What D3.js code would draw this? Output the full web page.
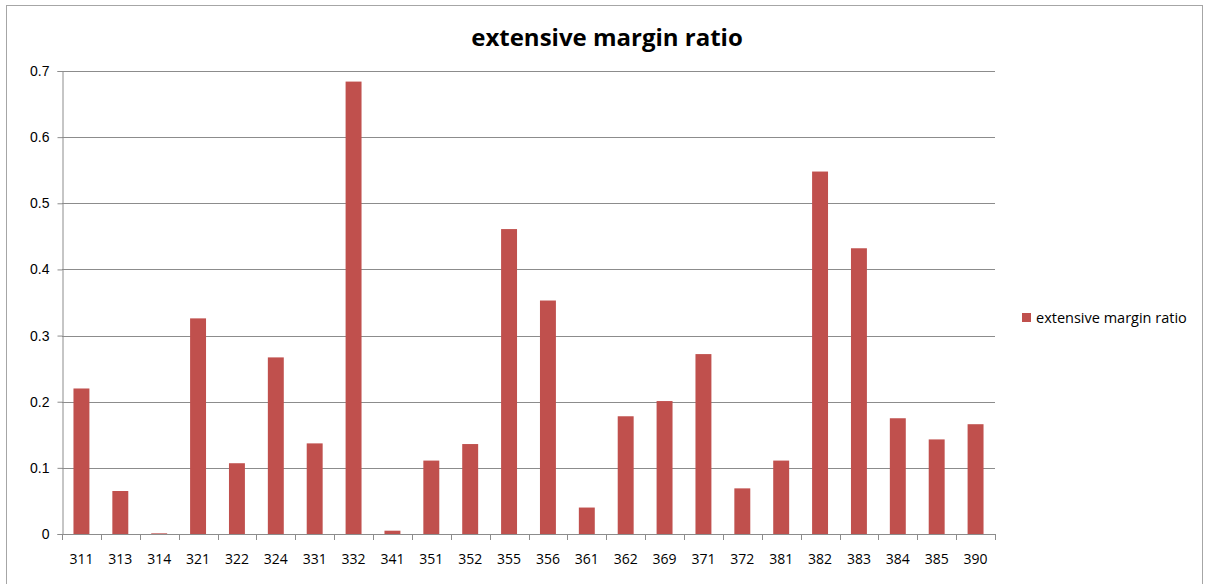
<!DOCTYPE html>
<html>
<head>
<meta charset="utf-8">
<script src="https://cdn.jsdelivr.net/npm/d3@7"></script>
<style>
  body { margin: 0; background: #fff; }
  svg { display: block; font-family: "Open Sans", "Noto Sans", sans-serif; }
</style>
</head>
<body>
<svg id="chart"></svg>
<script>
const categories = ['311', '313', '314', '321', '322', '324', '331', '332', '341', '351', '352', '355',
  '356', '361', '362', '369', '371', '372', '381', '382', '383', '384', '385', '390'];
const values = [0.220, 0.065, 0.001, 0.326, 0.107, 0.267, 0.137, 0.684, 0.005, 0.111, 0.136, 0.461,
  0.353, 0.040, 0.178, 0.201, 0.272, 0.069, 0.111, 0.548, 0.432, 0.175, 0.143, 0.166];
const yTicks = [0, 0.1, 0.2, 0.3, 0.4, 0.5, 0.6, 0.7];
const seriesName = 'extensive margin ratio';

const width = 1205, height = 584;
const margin = { top: 71, left: 62, right: 210, bottom: 50 };
const barColor = '#c0504d';

const svg = d3.select('#chart').attr('width', width).attr('height', height);

// chart frame
svg.append('rect')
  .attr('x', 6.5).attr('y', 5.5)
  .attr('width', 1196).attr('height', 600)
  .attr('fill', 'none').attr('stroke', '#a6a6a6');

const x = d3.scaleBand()
  .domain(categories)
  .range([margin.left, width - margin.right])
  .paddingInner(0.59).paddingOuter(0.295);

const y = d3.scaleLinear()
  .domain([0, 0.7])
  .range([height - margin.bottom, margin.top]);

// gridlines
svg.append('g')
  .selectAll('line')
  .data(yTicks.slice(1))
  .enter().append('line')
  .attr('x1', margin.left).attr('x2', width - margin.right)
  .attr('y1', d => Math.round(y(d)) + 0.5).attr('y2', d => Math.round(y(d)) + 0.5)
  .attr('stroke', '#8c8c8c');

// y axis
const yAxis = svg.append('g')
  .attr('transform', `translate(${margin.left + 0.5},0)`)
  .call(d3.axisLeft(y).tickValues(yTicks).tickSize(5).tickPadding(8).tickFormat(d => d === 0 ? '0' : d3.format('.1f')(d)));
yAxis.selectAll('text').attr('font-size', 14).attr('fill', '#000');

// bars
svg.append('g')
  .selectAll('rect')
  .data(values)
  .enter().append('rect')
  .attr('x', (d, i) => x(categories[i]))
  .attr('width', x.bandwidth())
  .attr('y', d => y(d))
  .attr('height', d => y(0) - y(d))
  .attr('fill', barColor);

// x axis: ticks between categories
const step = x.step();
const boundaries = d3.range(categories.length + 1).map(i => margin.left + i * step);
const xg = svg.append('g');
xg.append('line')
  .attr('x1', margin.left).attr('x2', width - margin.right)
  .attr('y1', Math.round(y(0)) + 0.5).attr('y2', Math.round(y(0)) + 0.5)
  .attr('stroke', '#8c8c8c');
xg.selectAll('line.tick')
  .data(boundaries)
  .enter().append('line')
  .attr('class', 'tick')
  .attr('x1', d => Math.round(d) + 0.5).attr('x2', d => Math.round(d) + 0.5)
  .attr('y1', Math.round(y(0))).attr('y2', Math.round(y(0)) + 6)
  .attr('stroke', '#8c8c8c');
xg.selectAll('text')
  .data(categories)
  .enter().append('text')
  .attr('x', d => x(d) + x.bandwidth() / 2)
  .attr('y', y(0) + 30)
  .attr('text-anchor', 'middle')
  .attr('font-size', 14)
  .text(d => d);

yAxis.select('.domain').attr('stroke', '#8c8c8c');
yAxis.selectAll('.tick line').attr('stroke', '#8c8c8c');

// title
svg.append('text')
  .attr('x', 607).attr('y', 46)
  .attr('text-anchor', 'middle')
  .attr('font-size', 24).attr('font-weight', 'bold')
  .text(seriesName);

// legend
const legend = svg.append('g').attr('transform', 'translate(1022,313)');
legend.append('rect').attr('width', 9).attr('height', 9).attr('fill', barColor);
legend.append('text')
  .attr('x', 14).attr('y', 10)
  .attr('font-size', 14.5)
  .text(seriesName);
</script>
</body>
</html>
